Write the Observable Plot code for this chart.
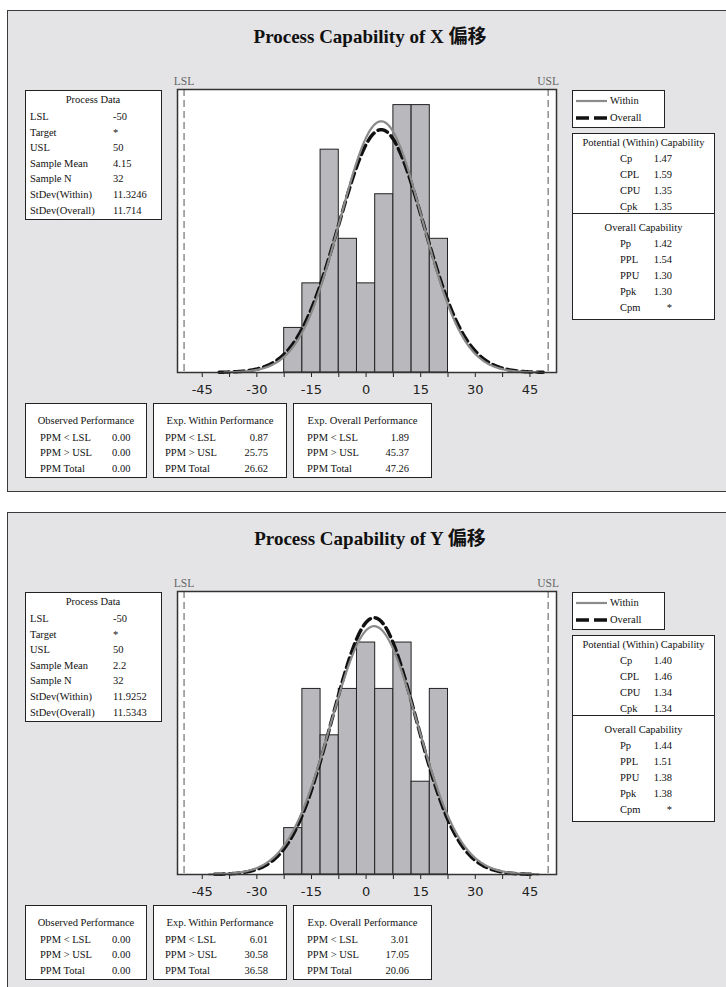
<!DOCTYPE html>
<html><head><meta charset="utf-8">
<script src="https://cdn.jsdelivr.net/npm/d3@7"></script>
<script src="https://cdn.jsdelivr.net/npm/@observablehq/plot@0.6"></script>
<style>
html,body{margin:0;padding:0;background:#fff;}
body{position:relative;width:726px;height:987px;overflow:hidden;font-family:"Liberation Serif","Times New Roman",serif;color:#111;}
.panel{position:absolute;left:7px;width:760px;height:482px;background:#e4e4e6;border:1.5px solid #3a3a3a;box-sizing:border-box;}
.box{position:absolute;background:#fff;border:1.5px solid #222;box-sizing:border-box;}
.t{position:absolute;white-space:nowrap;font-size:10.5px;line-height:12px;}
.title{position:absolute;white-space:nowrap;font-size:19px;font-weight:bold;font-family:"Liberation Serif","Noto Sans CJK TC",serif;transform:translate(-50%,-50%);color:#111;}
.plot{position:absolute;}
</style></head><body>
<script>
// ---------- data ----------
const titles = ["Process Capability of X 偏移", "Process Capability of Y 偏移"];
const binEdges = [-22.5, -17.5, -12.5, -7.5, -2.5, 2.5, 7.5, 12.5, 17.5, 22.5];
const countsX = [1, 2, 5, 3, 2, 4, 6, 6, 3];
const countsY = [1, 4, 3, 4, 5, 4, 5, 2, 4];
const specLimits = [-50, 50];
const specLabels = ["LSL", "USL"];
const sampleN = 32;
const meanX = 4.15, sdWithinX = 11.3246, sdOverallX = 11.714;
const meanY = 2.2, sdWithinY = 11.9252, sdOverallY = 11.5343;
const xTicks = [-45, -37.5, -30, -22.5, -15, -7.5, 0, 7.5, 15, 22.5, 30, 37.5, 45];
const xTickLabels = [-45, -30, -15, 0, 15, 30, 45];

const processLabels = ["LSL", "Target", "USL", "Sample Mean", "Sample N", "StDev(Within)", "StDev(Overall)"];
const processValuesX = ["-50", "*", "50", "4.15", "32", "11.3246", "11.714"];
const processValuesY = ["-50", "*", "50", "2.2", "32", "11.9252", "11.5343"];

const legendLabels = ["Within", "Overall"];

const potentialLabels = ["Cp", "CPL", "CPU", "Cpk"];
const potentialValuesX = ["1.47", "1.59", "1.35", "1.35"];
const potentialValuesY = ["1.40", "1.46", "1.34", "1.34"];
const overallLabels = ["Pp", "PPL", "PPU", "Ppk", "Cpm"];
const overallValuesX = ["1.42", "1.54", "1.30", "1.30", "*"];
const overallValuesY = ["1.44", "1.51", "1.38", "1.38", "*"];

const perfTitles = ["Observed Performance", "Exp. Within Performance", "Exp. Overall Performance"];
const perfLabels = ["PPM < LSL", "PPM > USL", "PPM Total"];
const observedX = ["0.00", "0.00", "0.00"];
const expWithinX = ["0.87", "25.75", "26.62"];
const expOverallX = ["1.89", "45.37", "47.26"];
const observedY = ["0.00", "0.00", "0.00"];
const expWithinY = ["6.01", "30.58", "36.58"];
const expOverallY = ["3.01", "17.05", "20.06"];

// ---------- helpers ----------
function put(s, x, y, align = "left") {
  const d = document.createElement("div");
  d.className = "t";
  d.textContent = s;
  d.style.left = x + "px";
  d.style.top = y + "px";
  const tx = align === "center" ? "-50%" : align === "right" ? "-100%" : "0";
  d.style.transform = `translate(${tx},-50%)`;
  document.body.appendChild(d);
}
function box(l, t, w, h) {
  const d = document.createElement("div");
  d.className = "box";
  Object.assign(d.style, {left: l + "px", top: t + "px", width: w + "px", height: h + "px"});
  document.body.appendChild(d);
  return d;
}

function chart(counts, mean, sdW, sdO, yMax) {
  const bins = counts.map((c, i) => ({x1: binEdges[i], x2: binEdges[i + 1], count: c}));
  const bw = binEdges[1] - binEdges[0];
  const dens = (x, s) => sampleN * bw * Math.exp(-0.5 * ((x - mean) / s) ** 2) / (s * Math.sqrt(2 * Math.PI));
  const curve = s => d3.range(mean - 3.8 * s, mean + 3.8 * s + 1e-9, 0.25).map(x => ({x, y: dens(x, s)}));
  return Plot.plot({
    width: 410, height: 335,
    marginLeft: 17, marginRight: 14, marginTop: 19, marginBottom: 33,
    x: {domain: [-51.8, 52.3]},
    y: {domain: [0, yMax], axis: null},
    style: {background: "transparent", overflow: "visible", fontFamily: "DejaVu Sans", fontSize: "13px", color: "#222"},
    marks: [
      Plot.frame({fill: "white"}),
      Plot.ruleX(specLimits, {stroke: "#555", strokeWidth: 1, strokeDasharray: "7,4"}),
      Plot.rectY(bins, {x1: "x1", x2: "x2", y: "count", fill: "#b9b9bd", stroke: "#222", strokeWidth: 1, inset: 0}),
      Plot.line(curve(sdO), {x: "x", y: "y", stroke: "#111", strokeWidth: 3.5, strokeDasharray: "10,5"}),
      Plot.line(curve(sdW), {x: "x", y: "y", stroke: "#8a8a8a", strokeWidth: 2.2}),
      Plot.text(specLabels, {x: specLimits, text: d => d, frameAnchor: "top", lineAnchor: "bottom", dy: -5,
        fontFamily: "Liberation Serif", fontSize: 11.5, fill: "#666"}),
      Plot.axisX({ticks: xTicks, tickSize: 5, tickPadding: 7, label: null,
        tickFormat: d => xTickLabels.includes(d) ? String(d) : ""}),
      Plot.frame({stroke: "#333", strokeWidth: 1.5})
    ]
  });
}

function panel(oy, idx, counts, mean, sdW, sdO, yMax, procVals, potVals, ovVals, obs, expW, expO) {
  const p = document.createElement("div");
  p.className = "panel";
  p.style.top = (10 + oy) + "px";
  document.body.appendChild(p);

  const ti = document.createElement("div");
  ti.className = "title";
  ti.textContent = titles[idx];
  ti.style.left = "370px";
  ti.style.top = (34 + oy) + "px";
  document.body.appendChild(ti);

  const svg = chart(counts, mean, sdW, sdO, yMax);
  svg.classList.add("plot");
  svg.style.position = "absolute";
  svg.style.left = "160px";
  svg.style.top = (70 + oy) + "px";
  document.body.appendChild(svg);

  // Process Data
  box(25, 90 + oy, 137, 130);
  put("Process Data", 93, 100 + oy, "center");
  processLabels.forEach((lab, i) => {
    const y = 117 + oy + i * 15.6;
    put(lab, 30, y);
    put(procVals[i], 113, y);
  });

  // Legend
  box(572, 90 + oy, 93, 38);
  const lg = document.createElementNS("http://www.w3.org/2000/svg", "svg");
  lg.setAttribute("width", 40); lg.setAttribute("height", 30);
  Object.assign(lg.style, {position: "absolute", left: "574px", top: (94 + oy) + "px"});
  lg.innerHTML = `<line x1="2" x2="33" y1="7" y2="7" stroke="#8a8a8a" stroke-width="2.2"/>
    <line x1="2" x2="33" y1="24" y2="24" stroke="#111" stroke-width="3.5" stroke-dasharray="13,5"/>`;
  document.body.appendChild(lg);
  legendLabels.forEach((l, i) => put(l, 610, 101 + oy + i * 17));

  // Capability
  box(572, 133 + oy, 143, 187);
  const div = document.createElement("div");
  Object.assign(div.style, {position: "absolute", left: "572px", top: (213 + oy) + "px", width: "143px", height: "0", borderTop: "1.5px solid #222"});
  document.body.appendChild(div);
  put("Potential (Within) Capability", 643.5, 143 + oy, "center");
  potentialLabels.forEach((lab, i) => {
    const y = 158.5 + oy + i * 16;
    put(lab, 620, y);
    put(potVals[i], 672, y, "right");
  });
  put("Overall Capability", 643.5, 228 + oy, "center");
  overallLabels.forEach((lab, i) => {
    const y = 244 + oy + i * 16;
    put(lab, 620, y);
    put(ovVals[i], 672, y, "right");
  });

  // Performance boxes
  const bx = [[25, 122, 40, 112, "left"], [153, 134, 165, 268, "right"], [293, 139, 307, 409, "right"]];
  const vals = [obs, expW, expO];
  bx.forEach(([l, w, lx, vx, al], k) => {
    box(l, 403 + oy, w, 75);
    put(perfTitles[k], l + w / 2, 421 + oy, "center");
    perfLabels.forEach((lab, i) => {
      const y = 437.5 + oy + i * 15.5;
      put(lab, lx, y);
      put(vals[k][i], vx, y, al);
    });
  });
}

panel(0, 0, countsX, meanX, sdWithinX, sdOverallX, 6.35, processValuesX, potentialValuesX, overallValuesX, observedX, expWithinX, expOverallX);
panel(502, 1, countsY, meanY, sdWithinY, sdOverallY, 6.1, processValuesY, potentialValuesY, overallValuesY, observedY, expWithinY, expOverallY);
</script>
</body></html>
